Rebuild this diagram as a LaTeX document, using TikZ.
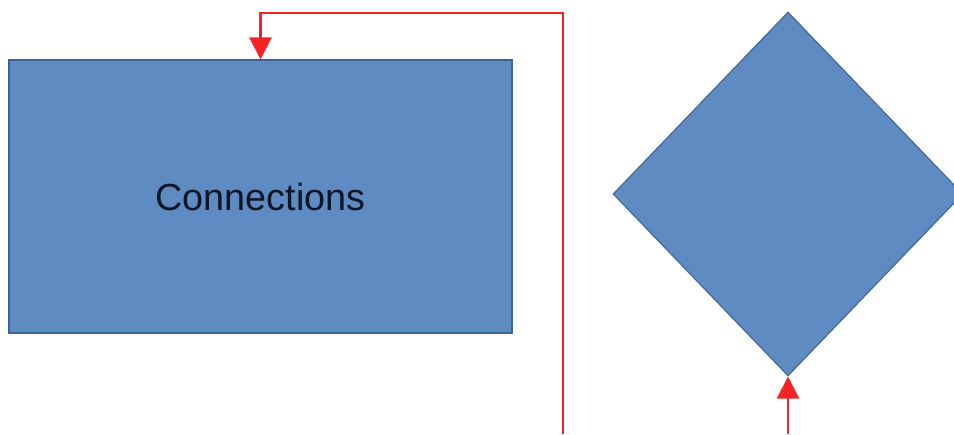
\documentclass[tikz,border=0pt]{standalone}
\usepackage{fontspec}
\setmainfont{Liberation Sans}
\usetikzlibrary{arrows.meta,shapes.geometric}
\definecolor{shapeblue}{RGB}{94,139,194}
\definecolor{shapeedge}{RGB}{62,100,150}
\definecolor{linkred}{RGB}{245,35,35}
\definecolor{labelink}{RGB}{15,22,38}

\begin{document}
\begin{tikzpicture}[
  shapebox/.style={draw=shapeedge, fill=shapeblue, line width=0.6pt, inner sep=0pt},
  link/.style={draw=linkred, line width=1.5pt, -{Triangle[width=4.4mm, length=4.4mm]}}
]
\useasboundingbox (0,0) rectangle (19.08,8.68);

\node[shapebox, minimum width=10.06cm, minimum height=5.46cm, text=labelink,
      font=\fontsize{21.5}{26}\selectfont] (conn) at (5.21,4.75) {Connections};
\node[shapebox, diamond, minimum width=7cm, minimum height=7.28cm] (dia) at (15.76,4.8) {};

\coordinate (loopstart) at (11.26,0);
\coordinate (loopcorner) at (11.26,8.42);
\coordinate (diastart) at (15.76,0);

\draw[link] (loopstart) -- (loopcorner) -| (conn.north);
\draw[link] (diastart) -- (dia.south);
\end{tikzpicture}
\end{document}
